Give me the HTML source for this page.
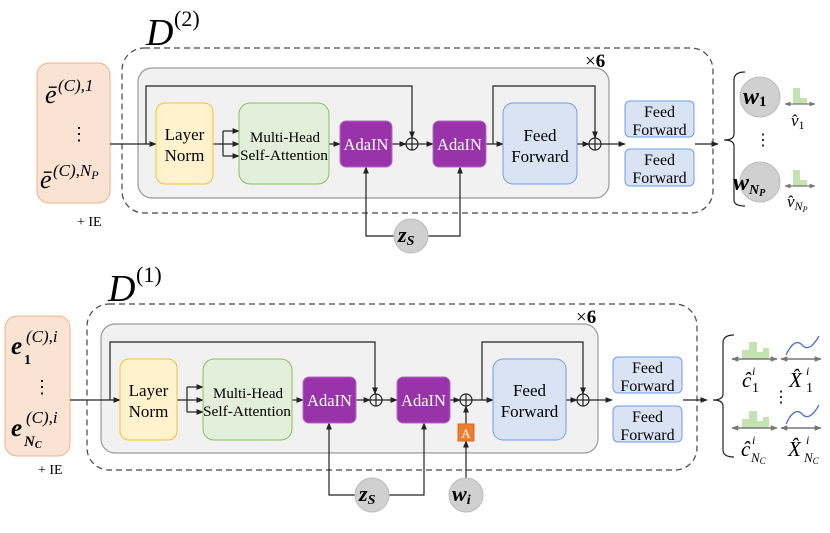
<!DOCTYPE html>
<html><head><meta charset="utf-8"><style>
html,body{margin:0;padding:0;background:#fff;}
svg{display:block;}
text{font-family:"Liberation Serif",serif;}
.m{font-family:"Liberation Serif",serif;font-style:italic;}
</style></head><body>
<svg width="830" height="533" viewBox="0 0 830 533" xmlns="http://www.w3.org/2000/svg">
<defs>
<marker id="a" viewBox="0 0 10 10" refX="9" refY="5" markerWidth="6" markerHeight="6" orient="auto"><path d="M0,1 L10,5 L0,9 z" fill="#222"/></marker>
<marker id="g" viewBox="0 0 10 10" refX="9" refY="5" markerWidth="5" markerHeight="5" orient="auto-start-reverse"><path d="M0,1 L10,5 L0,9 z" fill="#777"/></marker>
</defs>

<!-- ===== TOP ===== -->
<text x="146" y="45" font-size="38" class="m">D</text>
<text x="174" y="26" font-size="22">(2)</text>
<rect x="37" y="63" width="73" height="140" rx="12" fill="#fbe3d4" stroke="#f4b183"/>
<text x="45" y="103" font-size="26" class="m">ē</text><text x="58" y="91" font-size="17" class="m">(C),1</text>
<text x="70" y="140" font-size="18">⋮</text>
<text x="40" y="188" font-size="26" class="m">ē</text><text x="53" y="176" font-size="17" class="m">(C),N<tspan font-size="12" dy="3">P</tspan></text>
<text x="77" y="226" font-size="14">+ IE</text>

<rect x="122" y="48" width="591" height="165" rx="22" fill="none" stroke="#444" stroke-dasharray="6,4" stroke-width="1.2"/>
<rect x="138" y="68" width="471" height="130" rx="14" fill="#f1f1f1" stroke="#999" stroke-width="1.2"/>
<text x="585" y="67" font-size="19">×<tspan font-weight="bold">6</tspan></text>

<g stroke="#222" stroke-width="1.2" fill="none">
<line x1="110" y1="144" x2="156" y2="144" marker-end="url(#a)"/>
<polyline points="146,144 146,86 412,86 412,138" marker-end="url(#a)"/>
<polyline points="213,144 223,144"/>
<polyline points="223,131 223,156"/>
<line x1="223" y1="131" x2="239" y2="131" marker-end="url(#a)"/>
<line x1="223" y1="144" x2="239" y2="144" marker-end="url(#a)"/>
<line x1="223" y1="156" x2="239" y2="156" marker-end="url(#a)"/>
<line x1="329" y1="144" x2="340" y2="144" marker-end="url(#a)"/>
<line x1="392" y1="144" x2="406" y2="144" marker-end="url(#a)"/>
<line x1="418" y1="144" x2="433" y2="144" marker-end="url(#a)"/>
<line x1="486" y1="144" x2="503" y2="144" marker-end="url(#a)"/>
<polyline points="493,144 493,86 595,86 595,138" marker-end="url(#a)"/>
<line x1="577" y1="144" x2="589" y2="144" marker-end="url(#a)"/>
<line x1="601" y1="144" x2="625" y2="144" marker-end="url(#a)"/>
<line x1="695" y1="144" x2="718" y2="144" marker-end="url(#a)"/>
<circle cx="412" cy="144" r="6"/><line x1="406" y1="144" x2="418" y2="144"/><line x1="412" y1="138" x2="412" y2="150"/>
<circle cx="595" cy="144" r="6"/><line x1="589" y1="144" x2="601" y2="144"/><line x1="595" y1="138" x2="595" y2="150"/>
<polyline points="394,236 366,236 366,167" marker-end="url(#a)"/>
<polyline points="428,236 460,236 460,167" marker-end="url(#a)"/>
<path d="M745,72 Q734,72 734,80 L734,134 Q734,140 724,140 Q734,140 734,146 L734,200 Q734,206 745,206"/>
</g>

<rect x="156" y="103" width="57" height="81" rx="9" fill="#fff2cc" stroke="#f1c232"/>
<text x="184.5" y="140" font-size="17" text-anchor="middle">Layer</text>
<text x="184.5" y="161" font-size="17" text-anchor="middle">Norm</text>
<rect x="239" y="103" width="90" height="81" rx="11" fill="#e2efda" stroke="#8cbf5f"/>
<text x="285" y="142" font-size="15" text-anchor="middle">Multi-Head</text>
<text x="284" y="160" font-size="15" text-anchor="middle" textLength="88" lengthAdjust="spacingAndGlyphs">Self-Attention</text>
<rect x="340" y="121" width="52" height="46" rx="6" fill="#9933aa" stroke="#b070c0"/>
<text x="366" y="150" font-size="16.5" fill="#fff" text-anchor="middle">AdaIN</text>
<rect x="433" y="121" width="53" height="46" rx="6" fill="#9933aa" stroke="#b070c0"/>
<text x="459.5" y="150" font-size="16.5" fill="#fff" text-anchor="middle">AdaIN</text>
<rect x="503" y="103" width="74" height="81" rx="10" fill="#dae3f3" stroke="#6d9eeb"/>
<text x="540" y="141" font-size="17" text-anchor="middle">Feed</text>
<text x="540" y="162" font-size="17" text-anchor="middle">Forward</text>
<rect x="625" y="101" width="69" height="36" rx="5" fill="#dae3f3" stroke="#6d9eeb"/>
<text x="659.5" y="117" font-size="16" text-anchor="middle">Feed</text>
<text x="659.5" y="135" font-size="16" text-anchor="middle">Forward</text>
<rect x="625" y="149" width="69" height="37" rx="5" fill="#dae3f3" stroke="#6d9eeb"/>
<text x="659.5" y="165" font-size="16" text-anchor="middle">Feed</text>
<text x="659.5" y="183" font-size="16" text-anchor="middle">Forward</text>

<circle cx="411" cy="236" r="17" fill="#d0d0d0" stroke="#bbb"/>
<text x="398" y="242" font-size="22" class="m" font-weight="bold">z<tspan font-size="14" dy="3">S</tspan></text>

<circle cx="760" cy="97" r="20" fill="#d0d0d0" stroke="#bbb"/>
<text x="743" y="104" font-size="24" class="m" font-weight="bold">w<tspan font-size="15" dy="2" font-style="normal">1</tspan></text>
<text x="755" y="145" font-size="16">⋮</text>
<circle cx="760" cy="182" r="20" fill="#d0d0d0" stroke="#bbb"/>
<text x="733" y="190" font-size="24" class="m" font-weight="bold">w<tspan font-size="14" dy="4">N<tspan font-size="10" dy="2">P</tspan></tspan></text>
<path d="M793,104 V88 H800 V98 H807 V104 Z" fill="#c5e3b0"/>
<line x1="785" y1="104" x2="815" y2="104" stroke="#777" stroke-width="1.2" marker-start="url(#g)" marker-end="url(#g)"/>
<text x="791" y="126" font-size="17" class="m">v̂<tspan font-size="12" dy="3" font-style="normal">1</tspan></text>
<path d="M793,186 V170 H800 V180 H807 V186 Z" fill="#c5e3b0"/>
<line x1="785" y1="186" x2="815" y2="186" stroke="#777" stroke-width="1.2" marker-start="url(#g)" marker-end="url(#g)"/>
<text x="787" y="207" font-size="17" class="m">v̂<tspan font-size="12" dy="3">N<tspan font-size="8" dy="2">P</tspan></tspan></text>

<!-- ===== BOTTOM ===== -->
<text x="108" y="301" font-size="38" class="m">D</text>
<text x="136" y="282" font-size="22">(1)</text>
<rect x="5" y="316" width="65" height="140" rx="12" fill="#fbe3d4" stroke="#f4b183"/>
<text x="11" y="354" font-size="25" class="m" font-weight="bold">e</text><text x="26" y="342" font-size="17" class="m">(C),i</text><text x="24" y="364" font-size="14" font-weight="bold">1</text>
<text x="33" y="393" font-size="18">⋮</text>
<text x="11" y="436" font-size="25" class="m" font-weight="bold">e</text><text x="26" y="423" font-size="17" class="m">(C),i</text><text x="24" y="446" font-size="15" class="m" font-weight="bold">N<tspan font-size="10" dy="2">C</tspan></text>
<text x="38" y="474" font-size="14">+ IE</text>

<rect x="87" y="304" width="610" height="166" rx="22" fill="none" stroke="#444" stroke-dasharray="6,4" stroke-width="1.2"/>
<rect x="101" y="324" width="497" height="129" rx="14" fill="#f1f1f1" stroke="#999" stroke-width="1.2"/>
<text x="576" y="323" font-size="19">×<tspan font-weight="bold">6</tspan></text>

<g stroke="#222" stroke-width="1.2" fill="none">
<line x1="70" y1="400" x2="120" y2="400" marker-end="url(#a)"/>
<polyline points="110,400 110,342 375,342 375,394" marker-end="url(#a)"/>
<line x1="177" y1="400" x2="187" y2="400"/>
<line x1="187" y1="387" x2="187" y2="412"/>
<line x1="187" y1="387" x2="203" y2="387" marker-end="url(#a)"/>
<line x1="187" y1="400" x2="203" y2="400" marker-end="url(#a)"/>
<line x1="187" y1="412" x2="203" y2="412" marker-end="url(#a)"/>
<line x1="292" y1="400" x2="303" y2="400" marker-end="url(#a)"/>
<line x1="356" y1="400" x2="370" y2="400" marker-end="url(#a)"/>
<line x1="382" y1="400" x2="397" y2="400" marker-end="url(#a)"/>
<line x1="450" y1="400" x2="460" y2="400" marker-end="url(#a)"/>
<line x1="472" y1="400" x2="493" y2="400" marker-end="url(#a)"/>
<polyline points="482,400 482,342 583,342 583,394" marker-end="url(#a)"/>
<line x1="566" y1="400" x2="577" y2="400" marker-end="url(#a)"/>
<line x1="589" y1="400" x2="612" y2="400" marker-end="url(#a)"/>
<line x1="683" y1="400" x2="707" y2="400" marker-end="url(#a)"/>
<circle cx="376" cy="400" r="6"/><line x1="370" y1="400" x2="382" y2="400"/><line x1="376" y1="394" x2="376" y2="406"/>
<circle cx="466" cy="400" r="6"/><line x1="460" y1="400" x2="472" y2="400"/><line x1="466" y1="394" x2="466" y2="406"/>
<circle cx="583" cy="400" r="6"/><line x1="577" y1="400" x2="589" y2="400"/><line x1="583" y1="394" x2="583" y2="406"/>
<polyline points="355,495 329,495 329,423" marker-end="url(#a)"/>
<polyline points="389,495 424,495 424,423" marker-end="url(#a)"/>
<line x1="466" y1="478" x2="466" y2="441" marker-end="url(#a)"/>
<line x1="466" y1="424" x2="466" y2="406" marker-end="url(#a)"/>
<path d="M734,335 Q723,335 723,343 L723,394 Q723,400 713,400 Q723,400 723,406 L723,450 Q723,457 734,457"/>
</g>

<rect x="120" y="359" width="57" height="81" rx="9" fill="#fff2cc" stroke="#f1c232"/>
<text x="148.5" y="396" font-size="17" text-anchor="middle">Layer</text>
<text x="148.5" y="417" font-size="17" text-anchor="middle">Norm</text>
<rect x="203" y="359" width="89" height="81" rx="11" fill="#e2efda" stroke="#8cbf5f"/>
<text x="248" y="398" font-size="15" text-anchor="middle">Multi-Head</text>
<text x="247" y="416" font-size="15" text-anchor="middle" textLength="88" lengthAdjust="spacingAndGlyphs">Self-Attention</text>
<rect x="303" y="377" width="53" height="46" rx="6" fill="#9933aa" stroke="#b070c0"/>
<text x="329.5" y="406" font-size="16.5" fill="#fff" text-anchor="middle">AdaIN</text>
<rect x="397" y="377" width="53" height="46" rx="6" fill="#9933aa" stroke="#b070c0"/>
<text x="423.5" y="406" font-size="16.5" fill="#fff" text-anchor="middle">AdaIN</text>
<rect x="458" y="424" width="16" height="17" fill="#ed7d31" stroke="#d86a20"/>
<text x="466" y="438" font-size="13" fill="#fff" text-anchor="middle">A</text>
<rect x="493" y="359" width="73" height="81" rx="10" fill="#dae3f3" stroke="#6d9eeb"/>
<text x="529.5" y="396" font-size="17" text-anchor="middle">Feed</text>
<text x="529.5" y="417" font-size="17" text-anchor="middle">Forward</text>
<rect x="613" y="357" width="69" height="36" rx="5" fill="#dae3f3" stroke="#6d9eeb"/>
<text x="647.5" y="373" font-size="16" text-anchor="middle">Feed</text>
<text x="647.5" y="391" font-size="16" text-anchor="middle">Forward</text>
<rect x="613" y="406" width="69" height="36" rx="5" fill="#dae3f3" stroke="#6d9eeb"/>
<text x="647.5" y="422" font-size="16" text-anchor="middle">Feed</text>
<text x="647.5" y="440" font-size="16" text-anchor="middle">Forward</text>

<circle cx="372" cy="495" r="17" fill="#d0d0d0" stroke="#bbb"/>
<text x="359" y="501" font-size="22" class="m" font-weight="bold">z<tspan font-size="14" dy="3">S</tspan></text>
<circle cx="466" cy="495" r="17" fill="#d0d0d0" stroke="#bbb"/>
<text x="452" y="501" font-size="22" class="m" font-weight="bold">w<tspan font-size="14" dy="3">i</tspan></text>

<g>
<path d="M742,359 V350 H749 V342 H757 V352 H763 V348 H769 V359 Z" fill="#c5e3b0"/>
<line x1="732" y1="359" x2="777" y2="359" stroke="#777" stroke-width="1.4" marker-start="url(#g)" marker-end="url(#g)"/>
<path d="M786,355 Q795,336 803,346 Q810,352 819,336" stroke="#4a72c4" stroke-width="1.3" fill="none"/>
<line x1="781" y1="359" x2="821" y2="359" stroke="#777" stroke-width="1.4" marker-start="url(#g)" marker-end="url(#g)"/>
<text x="742" y="387" font-size="21" class="m">ĉ</text><text x="752" y="375" font-size="12" class="m">i</text><text x="752" y="392" font-size="14">1</text>
<text x="789" y="387" font-size="21" class="m">X̂</text><text x="806" y="375" font-size="12" class="m">i</text><text x="806" y="392" font-size="14">1</text>
<text x="773" y="402" font-size="16">⋮</text>
<path d="M742,428 V419 H749 V411 H757 V421 H763 V417 H769 V428 Z" fill="#c5e3b0"/>
<line x1="732" y1="428" x2="777" y2="428" stroke="#777" stroke-width="1.4" marker-start="url(#g)" marker-end="url(#g)"/>
<path d="M786,424 Q795,405 803,415 Q810,421 819,405" stroke="#4a72c4" stroke-width="1.3" fill="none"/>
<line x1="781" y1="428" x2="821" y2="428" stroke="#777" stroke-width="1.4" marker-start="url(#g)" marker-end="url(#g)"/>
<text x="741" y="456" font-size="21" class="m">ĉ</text><text x="752" y="444" font-size="12" class="m">i</text><text x="751" y="462" font-size="13" class="m">N<tspan font-size="9" dy="2">C</tspan></text>
<text x="788" y="456" font-size="21" class="m">X̂</text><text x="806" y="444" font-size="12" class="m">i</text><text x="804" y="462" font-size="13" class="m">N<tspan font-size="9" dy="2">C</tspan></text>
</g>
</svg>
</body></html>
